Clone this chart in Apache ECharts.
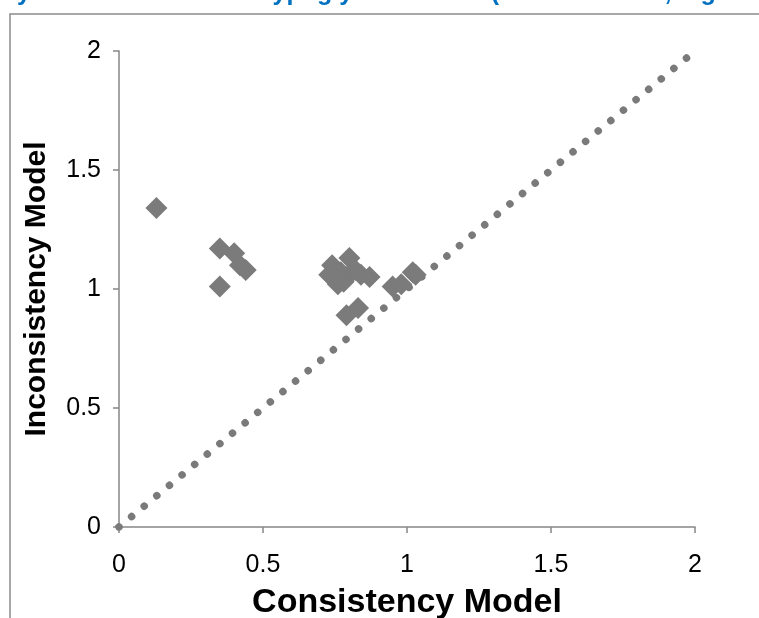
<!DOCTYPE html>
<html>
<head>
<meta charset="utf-8">
<script src="https://cdn.jsdelivr.net/npm/echarts@6/dist/echarts.min.js"></script>
<style>html,body{margin:0;padding:0;background:#fff;}#c{width:759px;height:618px;}</style>
</head>
<body>
<div id="c"></div>
<script>
var titleText = "Efficacy Metformin Severe Hypoglycemia Risk (Normal Model, log scale)";
var xName = "Consistency Model";
var yName = "Inconsistency Model";
var xTicks = [0, 0.5, 1, 1.5, 2];
var yTicks = [0, 0.5, 1, 1.5, 2];
// consistency model estimate (x) and inconsistency model estimate (y)
var consistency = [0.13, 0.35, 0.40, 0.42, 0.44, 0.35, 0.74, 0.80, 0.73, 0.77, 0.76, 0.79, 0.82, 0.84, 0.87, 0.78, 0.79, 0.83, 0.95, 0.98, 1.02, 1.03];
var inconsistency = [1.34, 1.17, 1.15, 1.10, 1.08, 1.01, 1.10, 1.13, 1.06, 1.07, 1.02, 1.05, 1.08, 1.06, 1.05, 1.03, 0.89, 0.92, 1.01, 1.02, 1.07, 1.06];
// line of equality
var diagonal = [[0, 0], [2, 2]];

var points = consistency.map(function (x, i) { return [x, inconsistency[i]]; });
var FONT = '"Liberation Sans", Arial, sans-serif';

var chart = echarts.init(document.getElementById('c'));
chart.setOption({
  animation: false,
  backgroundColor: '#fff',
  grid: { left: 119, right: 64, top: 51, bottom: 91, containLabel: false, outerBoundsMode: 'none' },
  graphic: [
    { type: 'rect', shape: { x: 10, y: 14, width: 900, height: 800 }, style: { fill: 'none', stroke: '#8a8a8a', lineWidth: 1.5 }, silent: true },
    { type: 'text', left: -65, top: -19, style: { text: titleText, font: 'bold 25px ' + FONT, fill: '#0070C0' }, silent: true }
  ],
  xAxis: {
    type: 'value', min: 0, max: 2, interval: 0.5,
    name: xName, nameLocation: 'middle', nameGap: 59,
    nameTextStyle: { fontFamily: FONT, fontWeight: 'bold', fontSize: 34, color: '#000' },
    axisLine: { show: true, lineStyle: { color: '#868686', width: 1.5 } },
    axisTick: { show: true, length: 6, lineStyle: { color: '#868686', width: 1.5 } },
    axisLabel: { margin: 26, fontFamily: FONT, fontSize: 25, color: '#000',
      formatter: function (v) { return xTicks.indexOf(v) >= 0 ? String(v) : ''; } },
    splitLine: { show: false }
  },
  yAxis: {
    type: 'value', min: 0, max: 2, interval: 0.5,
    name: yName, nameLocation: 'middle', nameGap: 67,
    nameTextStyle: { fontFamily: FONT, fontWeight: 'bold', fontSize: 30, color: '#000' },
    axisLine: { show: true, lineStyle: { color: '#868686', width: 1.5 } },
    axisTick: { show: true, length: 6, lineStyle: { color: '#868686', width: 1.5 } },
    axisLabel: { margin: 18, padding: [10, 0, 0, 0], fontFamily: FONT, fontSize: 25, color: '#000',
      formatter: function (v) { return yTicks.indexOf(v) >= 0 ? String(v) : ''; } },
    splitLine: { show: false }
  },
  series: [
    {
      type: 'line', data: diagonal, symbol: 'none', silent: true, z: 1,
      lineStyle: { color: '#7a7a7a', width: 7.5, type: [0.01, 16.35], cap: 'round' }
    },
    {
      type: 'scatter', data: points, symbol: 'diamond', symbolSize: 22, z: 2,
      itemStyle: { color: '#7b7b7b', opacity: 1 }
    }
  ]
});
</script>
</body>
</html>
